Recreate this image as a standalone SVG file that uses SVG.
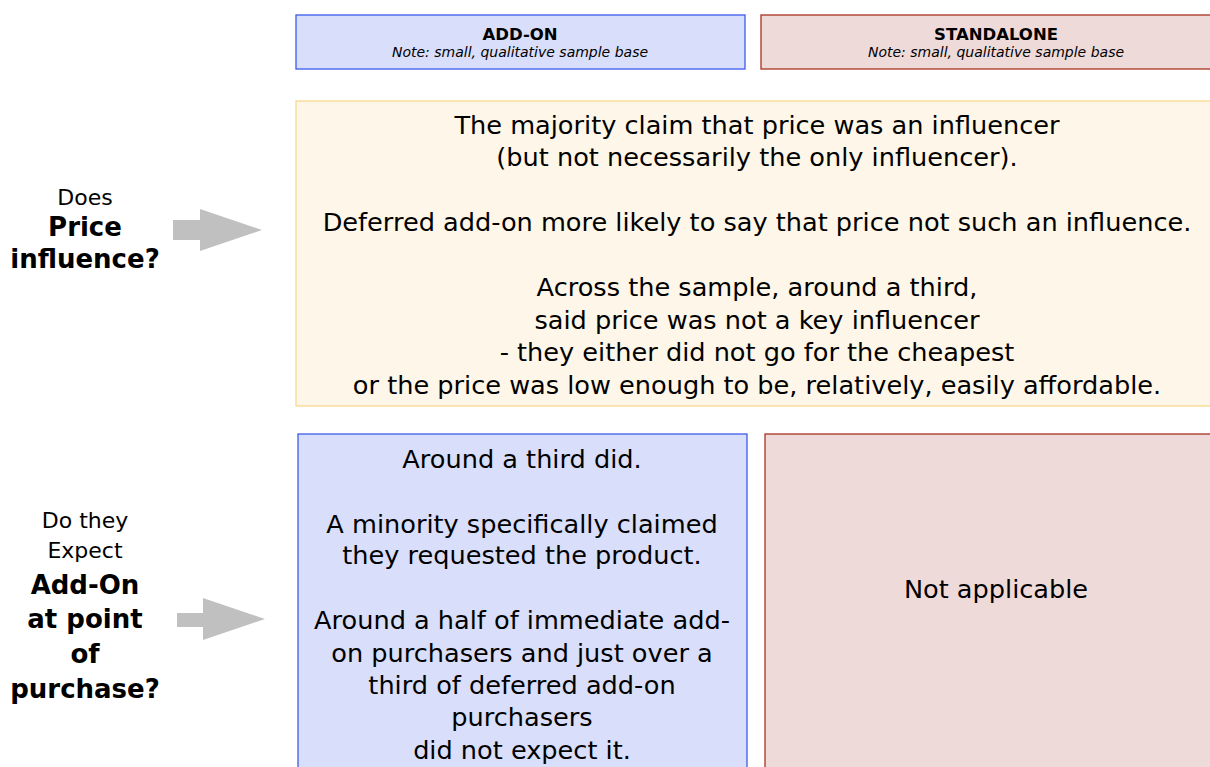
<svg xmlns="http://www.w3.org/2000/svg" width="1210" height="767" viewBox="0 0 1210 767">
<style>
text{font-family:"DejaVu Sans","Liberation Sans",sans-serif;fill:#000;text-anchor:middle}
.hd{font-size:16.5px;font-weight:bold}
.nt{font-size:14px;font-style:italic}
.q{font-size:22px}
.qb{font-size:26px;font-weight:bold}
.b{font-size:25.6px}
.blue{fill:#D9DEFB;stroke:#3B5BEB;stroke-width:1.3}
.red{fill:#EFDADA;stroke:#A8321F;stroke-width:1.3}
.yel{fill:#FEF6E8;stroke:#F9D98E;stroke-width:1.3}
.arr{fill:#C0C0C0}
</style>
<rect width="1210" height="767" fill="#fff"/>
<g id="hdr-addon">
<rect class="blue" x="296" y="15" width="449" height="54"/>
<text class="hd" x="520" y="40">ADD-ON</text>
<text class="nt" x="520" y="57">Note: small, qualitative sample base</text>
</g>
<g id="hdr-standalone">
<rect class="red" x="761" y="15" width="470" height="54"/>
<text class="hd" x="996" y="40">STANDALONE</text>
<text class="nt" x="996" y="57">Note: small, qualitative sample base</text>
</g>
<g id="q-price">
<text class="q" x="85" y="205">Does</text>
<text class="qb" x="85" y="236">Price</text>
<text class="qb" x="85" y="268">influence?</text>
</g>
<g id="q-expect">
<text class="q" x="85" y="528">Do they</text>
<text class="q" x="85" y="558">Expect</text>
<text class="qb" x="85" y="594">Add-On</text>
<text class="qb" x="85" y="628">at point</text>
<text class="qb" x="85" y="663">of</text>
<text class="qb" x="85" y="698">purchase?</text>
</g>
<g id="connectors">
<polygon class="arr" points="173,220 200,220 200,209 262,230 200,251 200,240 173,240"/>
<polygon class="arr" points="177,613 203,613 203,598 265,619 203,640 203,627 177,627"/>
</g>
<g id="price-answer">
<rect class="yel" x="296" y="101" width="930" height="305"/>
<text class="b" x="757" y="134">The majority claim that price was an influencer</text>
<text class="b" x="757" y="166">(but not necessarily the only influencer).</text>
<text class="b" x="757" y="231">Deferred add-on more likely to say that price not such an influence.</text>
<text class="b" x="757" y="296">Across the sample, around a third,</text>
<text class="b" x="757" y="329">said price was not a key influencer</text>
<text class="b" x="757" y="361">- they either did not go for the cheapest</text>
<text class="b" x="757" y="394">or the price was low enough to be, relatively, easily affordable.</text>
</g>
<g id="expect-addon">
<rect class="blue" x="298" y="434" width="449" height="345"/>
<text class="b" x="522" y="468">Around a third did.</text>
<text class="b" x="522" y="533">A minority specifically claimed</text>
<text class="b" x="522" y="564">they requested the product.</text>
<text class="b" x="522" y="629">Around a half of immediate add-</text>
<text class="b" x="522" y="662">on purchasers and just over a</text>
<text class="b" x="522" y="694">third of deferred add-on</text>
<text class="b" x="522" y="726">purchasers</text>
<text class="b" x="522" y="759">did not expect it.</text>
</g>
<g id="expect-standalone">
<rect class="red" x="765" y="434" width="470" height="345"/>
<text class="b" x="996" y="598">Not applicable</text>
</g>
</svg>
